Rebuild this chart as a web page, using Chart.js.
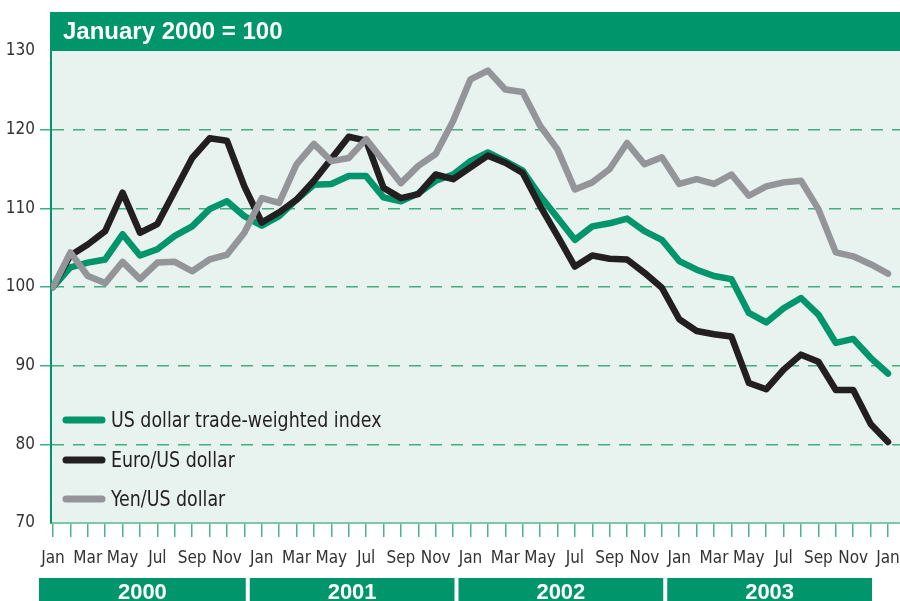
<!DOCTYPE html>
<html>
<head>
<meta charset="utf-8">
<script src="https://cdn.jsdelivr.net/npm/chart.js@4/dist/chart.umd.min.js"></script>
<style>
  html, body { margin: 0; padding: 0; background: #fff; }
  canvas { display: block; }
</style>
</head>
<body>
<canvas id="fxChart" width="900" height="601"></canvas>
<script>
// ── Data ───────────────────────────────────────────────
const monthLabels = [
    "Jan","Feb","Mar","Apr","May","Jun","Jul","Aug","Sep","Oct","Nov","Dec",
    "Jan","Feb","Mar","Apr","May","Jun","Jul","Aug","Sep","Oct","Nov","Dec",
    "Jan","Feb","Mar","Apr","May","Jun","Jul","Aug","Sep","Oct","Nov","Dec",
    "Jan","Feb","Mar","Apr","May","Jun","Jul","Aug","Sep","Oct","Nov","Dec",
    "Jan"
];
const years = ["2000", "2001", "2002", "2003"];

const tradeWeighted = [
    100.0, 102.5, 103.1, 103.5, 106.7, 104.0, 104.8, 106.5, 107.7, 109.9, 110.9, 109.0,
    107.8, 109.0, 111.1, 113.0, 113.1, 114.1, 114.1, 111.4, 110.9, 111.9, 113.5, 114.3,
    116.0, 117.1, 116.0, 114.8, 111.6, 108.8, 106.0, 107.7, 108.1, 108.7, 107.1, 106.0,
    103.3, 102.2, 101.4, 101.0, 96.7, 95.5, 97.3, 98.6, 96.5, 92.9, 93.4, 91.0,
    89.0
];
const euroUsd = [
    100.0, 104.0, 105.4, 107.1, 112.0, 106.9, 108.0, 112.2, 116.4, 118.9, 118.6, 112.8,
    108.2, 109.5, 111.1, 113.5, 116.3, 119.1, 118.6, 112.6, 111.3, 111.8, 114.3, 113.7,
    115.2, 116.7, 115.8, 114.5, 110.3, 106.5, 102.6, 104.0, 103.6, 103.5, 101.8, 99.9,
    95.9, 94.4, 94.0, 93.7, 87.8, 87.0, 89.5, 91.4, 90.5, 86.9, 86.9, 82.6,
    80.3
];
const yenUsd = [
    100.0, 104.4, 101.4, 100.5, 103.2, 101.0, 103.1, 103.2, 102.0, 103.5, 104.1, 106.9,
    111.3, 110.7, 115.6, 118.2, 116.0, 116.4, 118.8, 116.0, 113.2, 115.4, 116.9, 121.1,
    126.4, 127.5, 125.1, 124.8, 120.5, 117.5, 112.4, 113.3, 115.0, 118.3, 115.6, 116.5,
    113.1, 113.7, 113.1, 114.3, 111.6, 112.8, 113.3, 113.5, 109.9, 104.4, 103.9, 102.9,
    101.7
];

const seriesNames = ["US dollar trade-weighted index", "Euro/US dollar", "Yen/US dollar"];
const yTicks = [70, 80, 90, 100, 110, 120, 130];
const headerText = "January 2000 = 100";

// ── Style ──────────────────────────────────────────────
const GREEN  = "#00956a";
const BLACK  = "#231f20";
const GREY   = "#939598";
const PLOTBG = "#e8f2ef";
const NARROW = "'Liberation Sans Narrow', 'DejaVu Sans Condensed', sans-serif";
const BOLD   = "'Liberation Sans', Arial, sans-serif";

const toPoints = arr => arr.map((v, i) => ({ x: i, y: v }));

// ── Plugins ────────────────────────────────────────────
const decorPlugin = {
    id: "decor",
    beforeDraw(chart) {
        const { ctx, chartArea: a } = chart;
        ctx.save();
        ctx.fillStyle = PLOTBG;
        ctx.fillRect(a.left, a.top, a.right - a.left, a.bottom - a.top);
        ctx.restore();
    },
    afterDraw(chart) {
        const { ctx, chartArea: a, scales } = chart;
        const xs = scales.x;
        ctx.save();

        // header bar
        ctx.fillStyle = GREEN;
        ctx.fillRect(a.left - 1, 12, 900 - a.left + 1, a.top - 12);
        ctx.fillStyle = "#fff";
        ctx.font = "bold 24px " + BOLD;
        ctx.textBaseline = "middle";
        ctx.textAlign = "left";
        ctx.fillText(headerText, 63, 32);

        // year bands
        years.forEach((yr, i) => {
            const x0 = xs.getPixelForValue(i * 12) - (i === 0 ? 14 : 12);
            const x1 = xs.getPixelForValue((i + 1) * 12) - 16;
            ctx.fillStyle = GREEN;
            ctx.fillRect(x0, 578, x1 - x0, 30);
            ctx.fillStyle = "#fff";
            ctx.font = "bold 22px " + BOLD;
            ctx.textAlign = "center";
            ctx.textBaseline = "middle";
            ctx.fillText(yr, (x0 + x1) / 2, 593);
        });

        // legend
        const colors = [GREEN, BLACK, GREY];
        const rows = [420, 460, 499];
        ctx.lineCap = "round";
        ctx.lineWidth = 7;
        seriesNames.forEach((name, i) => {
            ctx.strokeStyle = colors[i];
            ctx.beginPath();
            ctx.moveTo(66, rows[i]);
            ctx.lineTo(102, rows[i]);
            ctx.stroke();
            ctx.save();
            ctx.translate(111, rows[i] + 1);
            ctx.scale(0.88, 1);
            ctx.fillStyle = "#231f20";
            ctx.font = "22px " + NARROW;
            ctx.textAlign = "left";
            ctx.textBaseline = "middle";
            ctx.fillText(name, 0, 0);
            ctx.restore();
        });
        ctx.restore();
    }
};

// ── Chart ──────────────────────────────────────────────
const lineStyle = {
    borderWidth: 6.5,
    pointRadius: 0,
    tension: 0,
    borderCapStyle: "round",
    borderJoinStyle: "round",
    fill: false
};

new Chart(document.getElementById("fxChart"), {
    type: "line",
    data: {
        datasets: [
            { ...lineStyle, label: seriesNames[2], data: toPoints(yenUsd), borderColor: GREY, order: 0 },
            { ...lineStyle, label: seriesNames[1], data: toPoints(euroUsd), borderColor: BLACK, order: 1 },
            { ...lineStyle, label: seriesNames[0], data: toPoints(tradeWeighted), borderColor: GREEN, order: 2 }
        ]
    },
    options: {
        responsive: false,
        animation: false,
        devicePixelRatio: 1,
        layout: { padding: { top: 51, left: 0, right: 0, bottom: 0 } },
        plugins: {
            legend: { display: false },
            tooltip: { enabled: false }
        },
        scales: {
            x: {
                type: "linear",
                min: -0.115,
                max: 48.69,
                afterFit: s => { s.height = 78; s.paddingLeft = 0; s.paddingRight = 0; },
                ticks: {
                    stepSize: 1,
                    includeBounds: false,
                    autoSkip: false,
                    maxRotation: 0,
                    padding: 11,
                    color: "#333",
                    font: { family: NARROW, size: 17 },
                    callback: v => (Number.isInteger(v) && v % 2 === 0) ? monthLabels[v] : ""
                },
                grid: {
                    drawOnChartArea: false,
                    drawTicks: true,
                    tickLength: 14,
                    color: "#4db38a",
                    lineWidth: 1.5
                },
                border: { color: "#7cc7a8", width: 2 }
            },
            y: {
                min: yTicks[0],
                max: yTicks[yTicks.length - 1],
                afterFit: s => { s.width = 51; s.paddingTop = 0; s.paddingBottom = 0; },
                afterBuildTicks: s => { s.ticks = yTicks.map(v => ({ value: v })); },
                ticks: {
                    padding: 5,
                    color: "#333",
                    font: { family: NARROW, size: 17 }
                },
                grid: {
                    tickLength: 11,
                    lineWidth: 1.5,
                    color: c => (c.tick && (c.tick.value === 70 || c.tick.value === 130)) ? "rgba(0,0,0,0)" : "#3fae80"
                },
                border: { color: GREEN, width: 2, dash: [12, 9] }
            }
        }
    },
    plugins: [decorPlugin]
});
</script>
</body>
</html>
